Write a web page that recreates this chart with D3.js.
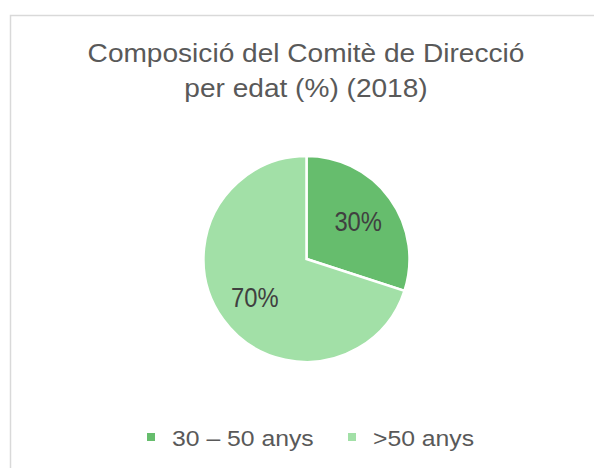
<!DOCTYPE html>
<html>
<head>
<meta charset="utf-8">
<script src="https://cdn.jsdelivr.net/npm/d3@7"></script>
<style>
  html, body { margin: 0; padding: 0; background: #fff; }
  svg { display: block; font-family: "Liberation Sans", Arial, sans-serif; }
</style>
</head>
<body>
<div id="chart"></div>
<script>
/* --- Data --- */
const categories = ["30 – 50 anys", ">50 anys"];
const values = [30, 70];
const sliceColors = ["#66bd6d", "#a2e0a7"];
const titleLines = ["Composició del Comitè de Direcció", "per edat (%) (2018)"];

/* --- Setup --- */
const width = 594, height = 468;
const svg = d3.select("#chart").append("svg")
    .attr("width", width)
    .attr("height", height);

// chart area border (cropped on right and bottom)
svg.append("rect")
    .attr("x", 10.5).attr("y", 15.5)
    .attr("width", 620).attr("height", 500)
    .attr("fill", "#fff")
    .attr("stroke", "#d9d9d9")
    .attr("stroke-width", 1.5);

// title
const title = svg.append("g");
titleLines.forEach((line, i) => {
    title.append("text")
        .attr("transform", `translate(306, ${62 + i * 35}) scale(1.08, 1)`)
        .attr("text-anchor", "middle")
        .attr("fill", "#595959")
        .style("font-size", "26px")
        .text(line);
});

// pie
const cx = 306.5, cy = 259, radius = 103;
const color = d3.scaleOrdinal().domain(categories).range(sliceColors);
const data = categories.map((c, i) => ({ id: c, value: values[i] }));
const pie = d3.pie().value(d => d.value).sort(null);
const arc = d3.arc().innerRadius(0).outerRadius(radius);
const labelArc = d3.arc().innerRadius(radius * 0.62).outerRadius(radius * 0.62);

const g = svg.append("g").attr("transform", `translate(${cx}, ${cy})`);
const arcs = pie(data);

g.selectAll("path")
    .data(arcs)
    .enter().append("path")
    .attr("d", arc)
    .attr("fill", d => color(d.data.id))
    .attr("stroke", "#fff")
    .attr("stroke-width", 2.5)
    .attr("stroke-linejoin", "miter");

g.selectAll("text")
    .data(arcs)
    .enter().append("text")
    .attr("transform", d => {
        const [x, y] = labelArc.centroid(d);
        return `translate(${x}, ${y + 10}) scale(0.88, 1)`;
    })
    .attr("text-anchor", "middle")
    .attr("fill", "#404040")
    .style("font-size", "27px")
    .text(d => d.data.value + "%");

// legend
const legendX = [147, 348];
const legend = svg.append("g");
categories.forEach((c, i) => {
    legend.append("rect")
        .attr("x", legendX[i]).attr("y", 433)
        .attr("width", 8).attr("height", 8)
        .attr("fill", color(c));
    legend.append("text")
        .attr("transform", `translate(${legendX[i] + 25}, 446) scale(1.1, 1)`)
        .attr("fill", "#595959")
        .style("font-size", "22.5px")
        .text(c);
});
</script>
</body>
</html>
